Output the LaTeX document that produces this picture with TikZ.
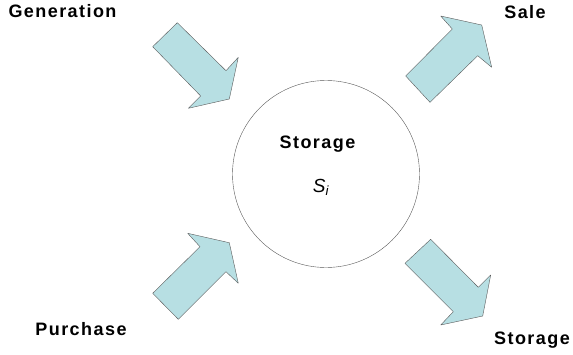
\documentclass[tikz,border=0pt]{standalone}
\usepackage{fontspec}
\setmainfont{Liberation Sans}
\newfontfamily\widebold[LetterSpace=8]{Liberation Sans Bold}
\begin{document}
\begin{tikzpicture}[x=1pt,y=-1pt,
                    blockarrow/.style={draw=black!65, fill=arrowfill, line join=round},
                    lbl/.style={font=\fontsize{18}{21}\widebold, anchor=base}]
                    \definecolor{arrowfill}{RGB}{183,223,227}
                    \useasboundingbox (0,0) rectangle (573,354);

                    % the store in the middle
                    \node[draw=black!65, circle, minimum size=187pt, inner sep=0pt] (store) at (326,174) {};
                    \node[lbl] (storename) at (317.5,148) {Storage};
                    \node[anchor=base, font=\fontsize{19}{22}\selectfont\itshape] (si) at (321,192) {S\textsubscript{i}};

                    % flows in
                    \draw[blockarrow] (177.3,22.7) -- (152.7,46.7) -- (200.7,96) -- (188.3,108.3)
                        -- (229.3,99) -- (238.3,57.3) -- (226,70.7) -- cycle;
                    \draw[blockarrow] (178.3,319.3) -- (152.7,293.3) -- (200,246.7) -- (187.7,233.3)
                        -- (229.3,242.7) -- (238.3,283.3) -- (226,271.7) -- cycle;

                    % flows out
                    \draw[blockarrow] (430,102.3) -- (405.7,76) -- (452.3,29) -- (440.7,16)
                        -- (481.7,25) -- (491.7,67.3) -- (477.7,55.7) -- cycle;
                    \draw[blockarrow] (430.7,239.3) -- (405,263.3) -- (453.3,311.7) -- (440.7,325)
                        -- (482.7,316) -- (490.7,275) -- (478.3,287.3) -- cycle;

                    \node[lbl] (gen) at (62.5,17) {Generation};
                    \node[lbl] (purch) at (81,335) {Purchase};
                    \node[lbl] (sale) at (525,18) {Sale};
                    \node[lbl] (storage) at (532,344) {Storage};
                \end{tikzpicture}
\end{document}
